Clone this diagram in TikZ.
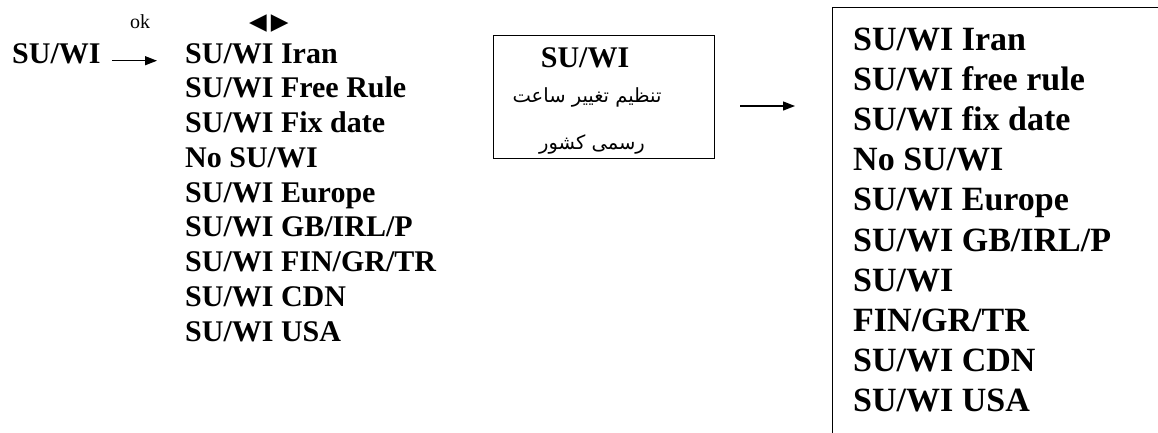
\documentclass[tikz,border=0pt]{standalone}
\usepackage{fontspec}
\setmainfont{Liberation Serif}
\newfontfamily\arabicfont[Script=Arabic]{DejaVu Sans}
\newfontfamily\symfont{DejaVu Sans}
\TeXXeTstate=1
\usetikzlibrary{arrows.meta}
\tikzset{
  lbl/.style={inner sep=0pt, anchor=base west},
  leftitem/.style={lbl, font=\fontsize{30}{36}\selectfont\bfseries},
  rightitem/.style={lbl, font=\fontsize{34}{40}\selectfont\bfseries},
  persian/.style={inner sep=0pt, anchor=base, font=\arabicfont\fontsize{19.5}{24}\selectfont},
  arr/.style={line width=1.3pt, -{Triangle[length=12pt,width=9pt]}},
  frame/.style={draw, line width=1.4pt, inner sep=0pt},
}
\begin{document}
\begin{tikzpicture}[x=1pt,y=-1pt]
\useasboundingbox (0,0) rectangle (1158,432);
\clip (0,0) rectangle (1158,432);
% left part
\node[leftitem] (src) at (12,63) {SU/WI};
\foreach [count=\i] \t in {SU/WI Iran, SU/WI Free Rule, SU/WI Fix date, No SU/WI, SU/WI Europe, SU/WI GB/IRL/P, SU/WI FIN/GR/TR, SU/WI CDN, SU/WI USA}
  \node[leftitem] (L\i) at ({185},{63+34.75*(\i-1)}) {\t};
\node[lbl, font=\fontsize{20}{24}\selectfont] (ok) at (130,28) {ok};
\node[lbl, font=\symfont\fontsize{23}{26}\selectfont] (lr) at (249,29) {◀\hspace{4pt}▶};
\draw[arr] ([xshift=11pt]src.mid east) -- ([xshift=-28pt]L1.mid west);
% middle box
\node[frame, anchor=north west, minimum width=221pt, minimum height=123pt] (mid) at (493,35) {};
\node[lbl, anchor=base, font=\fontsize{30}{36}\selectfont\bfseries] (midt) at (585,67) {SU/WI};
\node[persian] (p1) at (587,102) {\beginR تنظیم تغییر ساعت\endR};
\node[persian] (p2) at (592,149) {\beginR رسمی کشور\endR};
% arrow to right box
\coordinate (a1) at (740,106);
\coordinate (a2) at (795,106);
\draw[arr] (a1) -- (a2);
% right box
\node[frame, anchor=north west, minimum width=400pt, minimum height=500pt] (rbox) at (832,7) {};
\foreach [count=\i] \t in {SU/WI Iran, SU/WI free rule, SU/WI fix date, No SU/WI, SU/WI Europe, SU/WI GB/IRL/P, SU/WI, FIN/GR/TR, SU/WI CDN, SU/WI USA}
  \node[rightitem] (R\i) at ({853},{50+40.2*(\i-1)}) {\t};
\end{tikzpicture}
\end{document}
